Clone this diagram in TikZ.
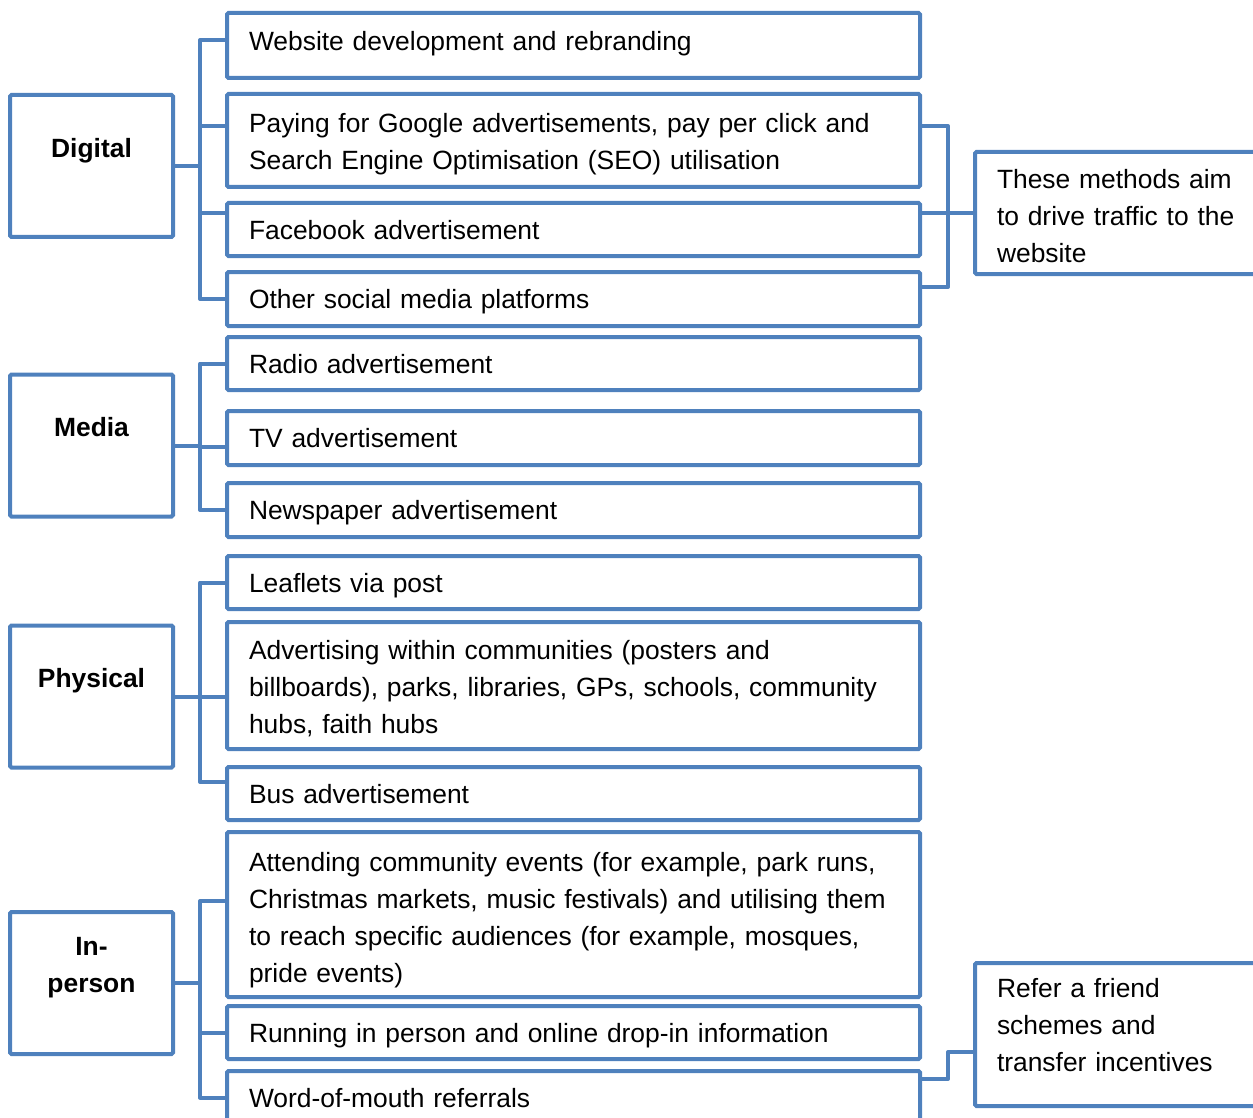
\documentclass[tikz,border=0pt]{standalone}
\usepackage{fontspec}
\setmainfont{Liberation Sans}
\usepackage{xcolor}
\usepackage{tikz}
\usetikzlibrary{positioning}
\definecolor{office}{HTML}{4F81BD}
\newcommand{\padtop}[1]{\rule{0pt}{#1}}
\newcommand{\padbot}[1]{\rule[-#1]{0pt}{#1}}

\begin{document}
\begin{tikzpicture}[x=1pt, y=-1pt,
            font=\fontsize{26.4}{37}\selectfont,
            catbox/.style={draw=office, line width=4pt, rounded corners=1.5pt, outer sep=0pt, minimum width=163pt, minimum height=142pt, align=center, font=\fontsize{26.4}{37}\selectfont\bfseries},
            itembox/.style={draw=office, line width=4pt, rounded corners=1.5pt, outer sep=0pt, text width=649pt, inner xsep=22pt, inner ysep=4pt, align=left},
            linebox/.style={itembox, text depth=0pt},
            notebox/.style={itembox, text width=256pt},
            link/.style={draw=office, line width=4pt, line join=round}]
            \useasboundingbox (0,0) rectangle (1253,1118);

            % categories
            \node[catbox] (dig) at (91.5,166) {Digital\\\mbox{}};
            \node[catbox] (media) at (91.5,445.5) {Media\\\mbox{}};
            \node[catbox] (phys) at (91.5,696.5) {Physical\\\mbox{}};
            \node[catbox] (inper) at (91.5,983) {In-\\person\\\mbox{}};

            % methods
            \node[linebox, minimum height=65pt, text depth=10pt] (web) at (573.5,45.5) {Website development and rebranding};
            \node[itembox, minimum height=93pt] (pay) at (573.5,140.5) {\padtop{26pt}Paying for Google advertisements, pay per click and\\Search Engine Optimisation (SEO) utilisation};
            \node[linebox, minimum height=53pt] (fb) at (573.5,229.5) {Facebook advertisement};
            \node[linebox, minimum height=54pt] (oth) at (573.5,299) {Other social media platforms};
            \node[linebox, minimum height=53pt] (radio) at (573.5,363.5) {Radio advertisement};
            \node[linebox, minimum height=54pt] (tv) at (573.5,438) {TV advertisement};
            \node[linebox, minimum height=54pt] (news) at (573.5,510) {Newspaper advertisement};
            \node[linebox, minimum height=53pt] (leaf) at (573.5,582.5) {Leaflets via post};
            \node[itembox, minimum height=127pt] (comm) at (573.5,685.5) {\padtop{26pt}Advertising within communities (posters and\\billboards), parks, libraries, GPs, schools, community\\hubs, faith hubs};
            \node[linebox, minimum height=53pt] (bus) at (573.5,793.5) {Bus advertisement};
            \node[itembox, minimum height=165pt] (events) at (573.5,914.5) {\padtop{30pt}Attending community events (for example, park runs,\\Christmas markets, music festivals) and utilising them\\to reach specific audiences (for example, mosques,\\pride events)};
            \node[linebox, minimum height=53pt] (drop) at (573.5,1032.5) {Running in person and online drop-in information};
            \node[linebox, minimum height=53pt] (word) at (573.5,1097.5) {Word-of-mouth referrals};

            % notes
            \node[notebox, minimum height=122pt] (aim) at (1125,213) {\padtop{26pt}These methods aim\\to drive traffic to the\\website};
            \node[notebox, minimum height=143pt] (refer) at (1125,1034.5) {Refer a friend\\schemes and\\transfer incentives\padbot{20pt}};

            % digital bracket
            \draw[link] (dig.east) -- ++(27,0);
            \draw[link] ([yshift=5.5pt]web.west) -- ++(-27,0) |- (oth.west);
            \draw[link] ([yshift=14.5pt]pay.west) -- ++(-27,0);
            \draw[link] ([yshift=16.5pt]fb.west) -- ++(-27,0);

            % media bracket
            \draw[link] (media.east) -- ++(27,0);
            \draw[link] (radio.west) -- ++(-27,0) |- (news.west);
            \draw[link] ([yshift=-9pt]tv.west) -- ++(-27,0);

            % physical bracket
            \draw[link] (phys.east) -- ++(27,0);
            \draw[link] (leaf.west) -- ++(-27,0) |- ([yshift=11.5pt]bus.west);
            \draw[link] ([yshift=-11.5pt]comm.west) -- ++(-27,0);

            % in-person bracket
            \draw[link] (inper.east) -- ++(27,0);
            \draw[link] ([yshift=13.5pt]events.west) -- ++(-27,0) |- (word.west);
            \draw[link] (drop.west) -- ++(-27,0);

            % right brackets
            \draw[link] ([yshift=14.5pt]pay.east) -- ++(28,0) |- ([yshift=12pt]oth.east);
            \draw[link] ([yshift=16.5pt]fb.east) -- (aim.west);
            \draw[link] ([yshift=18.5pt]word.east) -- ++(28,0) |- ([yshift=-17.5pt]refer.west);
        \end{tikzpicture}
\end{document}
